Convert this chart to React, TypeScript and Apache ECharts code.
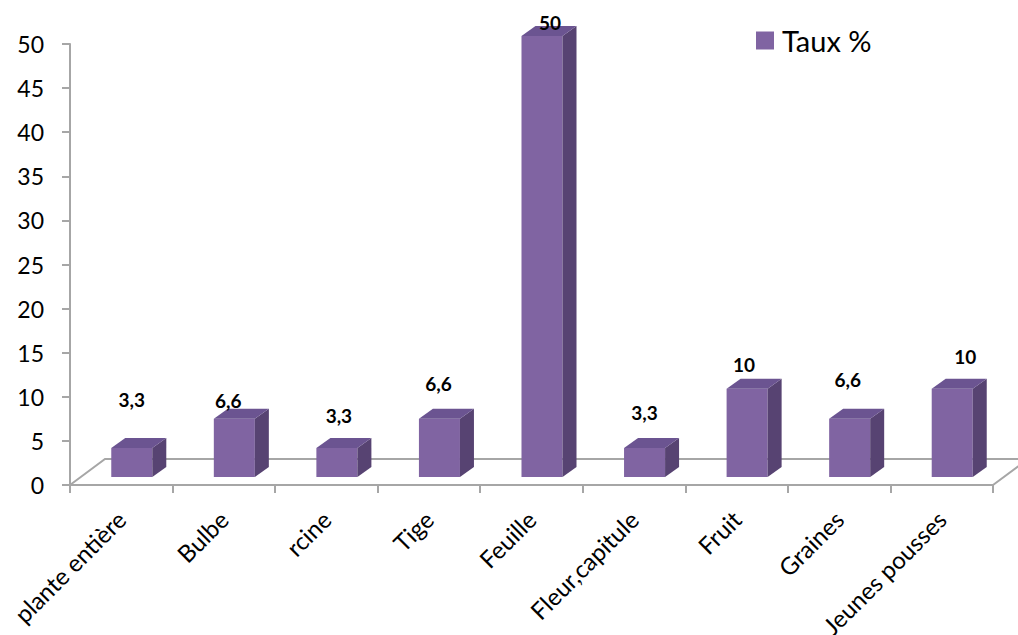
import { useEffect, useRef } from "react";
import * as echarts from "echarts";

const categories = [
  "plante entière",
  "Bulbe",
  "rcine",
  "Tige",
  "Feuille",
  "Fleur,capitule",
  "Fruit",
  "Graines",
  "Jeunes pousses",
];
const values = [3.3, 6.6, 3.3, 6.6, 50, 3.3, 10, 6.6, 10];
const valueLabels = ["3,3", "6,6", "3,3", "6,6", "50", "3,3", "10", "6,6", "10"];
const seriesName = "Taux %";
const yMin = 0;
const yMax = 50;
const yInterval = 5;

// layout tweaks for the data labels (offsets from the top front edge of each bar)
const LABEL_DX = [0, -6, 2, -1, 8, 0, -3, -2, 13];
const LABEL_DY = [-48, -18, -32, -35, -14, -35, -24, -39, -32];

const FONT = "Lato, 'Open Sans', sans-serif";
const GRID_GRAY = "#A6A6A6";
const FRONT = "#8064A2";
const SIDE = "#574372";
const TOP = "#6B5491";

const FLOOR_DX = 35;
const FLOOR_DY = 26;
const BAR_SHIFT_X = 10.5;
const BAR_SHIFT_Y = 8;
const BAR_DX = 14;
const BAR_DY = 10;

export default function App() {
  const ref = useRef<HTMLDivElement>(null);

  useEffect(() => {
    if (!ref.current) return;
    const chart = echarts.init(ref.current, undefined, { renderer: "svg" });

    const floorRender = (params: any, api: any) => {
      const c0 = api.coord([0, 0]);
      const band = api.size([1, 0])[0];
      const xl = c0[0] - band / 2;
      const xr = xl + band * categories.length;
      const y = c0[1];
      return {
        type: "polyline",
        shape: {
          points: [
            [xl, y],
            [xl + FLOOR_DX, y - FLOOR_DY],
            [xr + FLOOR_DX, y - FLOOR_DY],
            [xr, y],
          ],
        },
        style: { stroke: GRID_GRAY, lineWidth: 2, fill: "none" },
      };
    };

    const barRender = (params: any, api: any) => {
      const i = api.value(0);
      const v = api.value(1);
      const base = api.coord([i, 0]);
      const top = api.coord([i, v]);
      const band = api.size([1, 0])[0];
      const w = band * 0.4;
      const x0 = base[0] - w / 2 + BAR_SHIFT_X;
      const x1 = x0 + w;
      const yb = base[1] - BAR_SHIFT_Y;
      const yt = top[1] - BAR_SHIFT_Y;
      return {
        type: "group",
        children: [
          {
            type: "polygon",
            shape: { points: [[x0, yb], [x1, yb], [x1, yt], [x0, yt]] },
            style: { fill: FRONT },
          },
          {
            type: "polygon",
            shape: {
              points: [
                [x1, yb],
                [x1 + BAR_DX, yb - BAR_DY],
                [x1 + BAR_DX, yt - BAR_DY],
                [x1, yt],
              ],
            },
            style: { fill: SIDE },
          },
          {
            type: "polygon",
            shape: {
              points: [
                [x0, yt],
                [x1, yt],
                [x1 + BAR_DX, yt - BAR_DY],
                [x0 + BAR_DX, yt - BAR_DY],
              ],
            },
            style: { fill: TOP },
          },
          {
            type: "text",
            x: (x0 + x1) / 2 + LABEL_DX[i],
            y: yt + LABEL_DY[i],
            style: {
              text: valueLabels[i],
              fill: "#000",
              fontSize: 19,
              fontWeight: "bold",
              fontFamily: FONT,
              align: "center",
              verticalAlign: "middle",
            },
          },
        ],
      };
    };

    chart.setOption({
      animation: false,
      backgroundColor: "#ffffff",
      textStyle: { fontFamily: FONT },
      legend: {
        data: [seriesName],
        left: 756,
        top: 26,
        padding: 0,
        itemWidth: 18,
        itemHeight: 18,
        itemGap: 10,
        icon: "rect",
        textStyle: { fontSize: 29, color: "#000", fontFamily: FONT, lineHeight: 28, padding: [0, 0, 0, 3] },
      },
      grid: {
        left: 70,
        right: 25,
        top: 44,
        bottom: 150,
        containLabel: false,
        outerBoundsMode: "none",
      },
      xAxis: {
        type: "category",
        data: categories,
        axisLine: { show: true, lineStyle: { color: GRID_GRAY, width: 2 } },
        axisTick: { show: true, length: 8, interval: 0, lineStyle: { color: GRID_GRAY, width: 2 } },
        axisLabel: {
          interval: 0,
          rotate: 45,
          margin: 30,
          fontSize: 24,
          color: "#000",
          fontFamily: FONT,
        },
        splitLine: { show: false },
      },
      yAxis: {
        type: "value",
        min: yMin,
        max: yMax,
        interval: yInterval,
        axisLine: { show: true, lineStyle: { color: GRID_GRAY, width: 2 } },
        axisTick: { show: true, length: 8, lineStyle: { color: GRID_GRAY, width: 2 } },
        axisLabel: { margin: 26, fontSize: 23, color: "#000", fontFamily: FONT },
        splitLine: { show: false },
      },
      series: [
        {
          name: "floor",
          type: "custom",
          z: 1,
          silent: true,
          clip: false,
          renderItem: floorRender,
          data: [[0, 0]],
          encode: { x: 0, y: 1 },
        },
        {
          name: seriesName,
          type: "custom",
          z: 2,
          clip: false,
          itemStyle: { color: FRONT },
          renderItem: barRender,
          data: values.map((v, i) => [i, v]),
          encode: { x: 0, y: 1 },
        },
      ],
    });

    return () => chart.dispose();
  }, []);

  return (
    <div
      ref={ref}
      style={{ position: "absolute", left: 0, top: 0, width: 1018, height: 635 }}
    />
  );
}
